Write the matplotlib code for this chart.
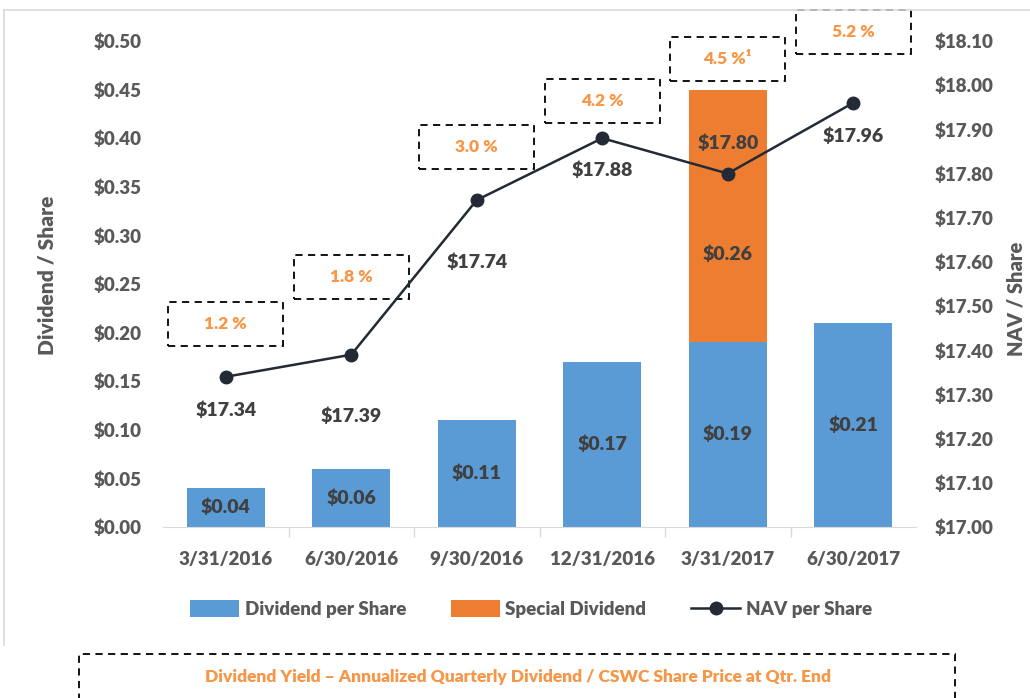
import matplotlib.pyplot as plt
from matplotlib.patches import Rectangle
from matplotlib.lines import Line2D

plt.rcParams['font.family'] = ['Lato', 'DejaVu Sans']
plt.rcParams['font.weight'] = 'heavy'
plt.rcParams['axes.labelweight'] = 'heavy'

# data
quarters = ['3/31/2016', '6/30/2016', '9/30/2016', '12/31/2016', '3/31/2017', '6/30/2017']
dividend = [0.04, 0.06, 0.11, 0.17, 0.19, 0.21]
special = [0, 0, 0, 0, 0.26, 0]
nav = [17.34, 17.39, 17.74, 17.88, 17.80, 17.96]
yields = ['1.2 %', '1.8 %', '3.0 %', '4.2 %', '4.5 %¹', '5.2 %']

# label placement (not data)
nav_offsets = [-24, -44, -45, -23, 22, -24]
yield_box_y = [17.46, 17.565, 17.86, 17.965, 18.06, 18.12]

gray = '#595959'
blue = '#5B9BD5'
orange = '#ED7D31'
lt_orange = '#F79646'
navy = '#222A35'

fig = plt.figure(figsize=(10.3, 6.98), dpi=100)
ax = fig.add_axes([163/1030, 1-527/698, (916-163)/1030, (527-41)/698])
ax2 = ax.twinx()

x = list(range(len(quarters)))
ax.bar(x, dividend, width=0.62, color=blue, label='Dividend per Share')
ax.bar(x, special, width=0.62, bottom=dividend, color=orange, label='Special Dividend')

for i in x:
    ax.text(i, dividend[i] / 2, '$%.2f' % dividend[i], ha='center', va='center',
            fontsize=14, color='#404040')
    if special[i] > 0:
        ax.text(i, dividend[i] + special[i] * 0.35, '$%.2f' % special[i], ha='center',
                va='center', fontsize=14, color='#404040')

ax.set_ylim(0, 0.5)
ax.set_xlim(-0.5, 5.5)
ax.set_yticks([i * 0.05 for i in range(11)])
ax.set_yticklabels(['$%.2f' % (i * 0.05) for i in range(11)])
ax.set_xticks(x)
ax.set_xticklabels(quarters)
# category separator ticks
ax.set_xticks([i + 0.5 for i in range(len(quarters) - 1)], minor=True)
ax.tick_params(axis='x', which='minor', length=7, color='#D9D9D9', width=1)

ax2.plot(x, nav, color=navy, lw=1.8, marker='o', ms=9, label='NAV per Share')
ax2.set_ylim(17.0, 18.1)
ax2.set_yticks([17.0 + i * 0.1 for i in range(12)])
ax2.set_yticklabels(['$%.2f' % (17.0 + i * 0.1) for i in range(12)])

for i in x:
    ax2.annotate('$%.2f' % nav[i], (i, nav[i]), xytext=(0, nav_offsets[i]),
                 textcoords='offset points', ha='center', va='center',
                 fontsize=14, color='#404040')
    ax2.add_patch(Rectangle((i - 0.46, yield_box_y[i] - 0.05), 0.92, 0.1, fill=False,
                            ls=(0, (4, 3)), lw=1.3, ec='black', clip_on=False))
    ax2.text(i, yield_box_y[i], yields[i], ha='center', va='center', fontsize=12.5,
             color=lt_orange, clip_on=False)

for a in (ax, ax2):
    for s in a.spines.values():
        s.set_visible(False)
    a.tick_params(which='major', length=0, labelsize=13.5, labelcolor=gray)
ax.spines['bottom'].set_visible(True)
ax.spines['bottom'].set_color('#D9D9D9')
ax.tick_params(axis='x', pad=17)
ax.tick_params(axis='y', pad=15)
ax2.tick_params(axis='y', pad=13.5)

ax.set_ylabel('Dividend / Share', fontsize=15, color=gray)
ax.yaxis.set_label_coords(-0.142, 0.517)
ax2.set_ylabel('NAV / Share', fontsize=14.5, color=gray)
ax2.yaxis.set_label_coords(1.12, 0.47)

h1, l1 = ax.get_legend_handles_labels()
h2, l2 = ax2.get_legend_handles_labels()
fig.legend(h1 + h2, l1 + l2, loc='center', bbox_to_anchor=(531/1030, 1-609/698), ncol=3,
           frameon=False, fontsize=13.5, labelcolor=gray, handlelength=2.6,
           handleheight=1.0, columnspacing=2.4, handletextpad=0.3)

# outer frame
fig.add_artist(Line2D([4/1030, 4/1030], [1-10/698, 1-645/698], color='#D9D9D9', lw=1.2))
fig.add_artist(Line2D([4/1030, 1], [1-10/698, 1-10/698], color='#D9D9D9', lw=1.2))

# bottom note box
fig.add_artist(Rectangle((79/1030, -0.05), (955-79)/1030, 0.05 + 1-654/698,
                         transform=fig.transFigure, fill=False, ls=(0, (4, 3)),
                         lw=1.3, ec='black'))
fig.text(518/1030, 1-677/698,
         'Dividend Yield \u2013 Annualized Quarterly Dividend / CSWC Share Price at Qtr. End',
         ha='center', va='center', fontsize=12.5, color=lt_orange)

fig.savefig('out.png', dpi=100)
